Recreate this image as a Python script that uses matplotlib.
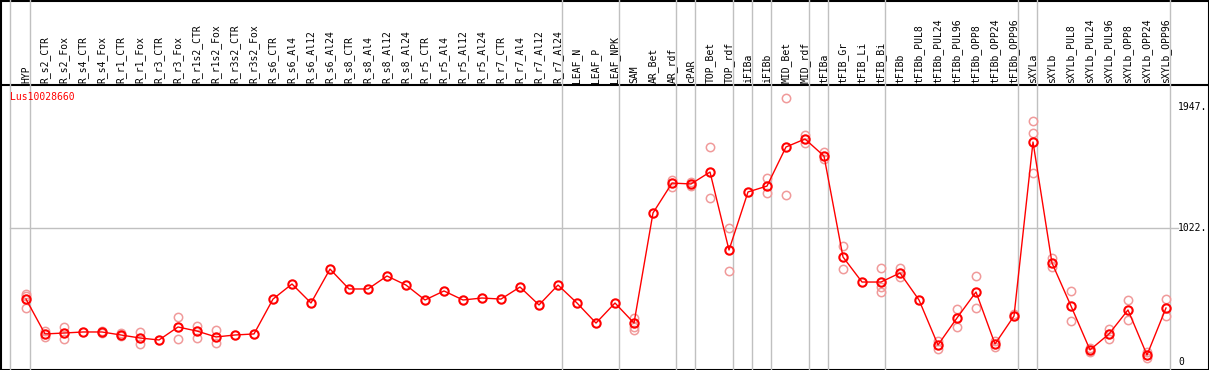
import matplotlib
matplotlib.use('Agg')
import matplotlib.pyplot as plt

W, H = 1209, 370

gene = 'Lus10028660'
samples = ['HYP', 'R_s2_CTR', 'R_s2_Fox', 'R_s4_CTR', 'R_s4_Fox', 'R_r1_CTR', 'R_r1_Fox',
           'R_r3_CTR', 'R_r3_Fox', 'R_r1s2_CTR', 'R_r1s2_Fox', 'R_r3s2_CTR', 'R_r3s2_Fox',
           'R_s6_CTR', 'R_s6_Al4', 'R_s6_Al12', 'R_s6_Al24', 'R_s8_CTR', 'R_s8_Al4',
           'R_s8_Al12', 'R_s8_Al24', 'R_r5_CTR', 'R_r5_Al4', 'R_r5_Al12', 'R_r5_Al24',
           'R_r7_CTR', 'R_r7_Al4', 'R_r7_Al12', 'R_r7_Al24', 'LEAF_N', 'LEAF_P', 'LEAF_NPK',
           'SAM', 'AR_Bet', 'AR_rdf', 'cPAR', 'TOP_Bet', 'TOP_rdf', 'iFIBa', 'iFIBb',
           'MID_Bet', 'MID_rdf', 'tFIBa', 'tFIB_Gr', 'tFIB_Li', 'tFIB_Bi', 'tFIBb',
           'tFIBb_PUL8', 'tFIBb_PUL24', 'tFIBb_PUL96', 'tFIBb_OPP8', 'tFIBb_OPP24',
           'tFIBb_OPP96', 'sXYLa', 'sXYLb', 'sXYLb_PUL8', 'sXYLb_PUL24', 'sXYLb_PUL96',
           'sXYLb_OPP8', 'sXYLb_OPP24', 'sXYLb_OPP96']

means = [480, 214, 221, 229, 229, 206, 183, 168, 267, 236, 191, 206, 214,
         480, 595, 450, 709, 557, 557, 656, 587, 473, 542, 473, 488, 480, 572, 435, 587,
         450, 297, 450, 297, 1137, 1365, 1358, 1449, 854, 1297, 1342, 1640, 1701, 1571,
         801, 610, 610, 679, 473, 130, 336, 534, 137, 351,
         1678, 755, 427, 92, 214, 397, 53, 412]

reps = [[519, 503, 412], [236, 191], [267, 175], [], [236, 221], [221, 198], [229, 137],
        [], [343, 175], [275, 183], [244, 145], [], [],
        [], [], [], [], [], [], [], [], [], [], [], [], [], [], [], [],
        [], [], [], [336, 267, 244], [], [1388, 1335], [1373, 1342], [1640, 1251],
        [1022, 694], [], [1404, 1289], [2014, 1274], [1732, 1671], [1602, 1548],
        [885, 709], [], [717, 572, 534], [717, 648], [], [160, 99], [404, 267],
        [656, 412], [160, 114], [366],
        [1838, 1747, 1442], [793, 725], [542, 313], [107, 76], [252, 175], [473, 320],
        [76, 31], [480, 351]]

# group boundaries (separator drawn right after these samples)
group_ends = ['HYP', 'R_r7_Al24', 'LEAF_NPK', 'AR_rdf', 'cPAR', 'TOP_rdf', 'iFIBa', 'iFIBb',
              'MID_rdf', 'tFIBa', 'tFIB_Bi', 'tFIBb_OPP96', 'sXYLa', 'sXYLb_OPP96']

y_ticks = [0, 1022, 1947]

fig = plt.figure(figsize=(W / 100, H / 100), dpi=100)
mono = 'DejaVu Sans Mono'

# plot box in pixels: x 10..1170, y 85..369
left, right, top, bottom = 10, 1170, 85, 369
ax = fig.add_axes([left / W, (H - bottom) / H, (right - left) / W, (bottom - top) / H])
ax.set_xlim(-16 / 19, (right - 26) / 19)
ax.set_ylim(-7 / 0.1311, 277 / 0.1311)
ax.axis('off')

x = list(range(len(samples)))
gray = '#c0c0c0'

ax.axvline(ax.get_xlim()[0], 0, bottom / (bottom - top), color=gray, lw=1, clip_on=False)
for g in group_ends:
    ax.axvline(samples.index(g) + 4 / 19, 0, bottom / (bottom - top), color=gray, lw=1,
               clip_on=False)
ax.axhline(1022, 0, 1.007, color=gray, lw=1, clip_on=False)

for i, r in enumerate(reps):
    ax.plot([i] * len(r), r, linestyle='none', marker='o', ms=6, mfc='none',
            mec='#f09a9a', mew=1.1, clip_on=False)
ax.plot(x, means, color='red', lw=1, marker='o', ms=6, mfc='none', mec='red', mew=1.5,
        clip_on=False)

# sample names in the header, rotated
for i, s in enumerate(samples):
    ax.text(i, 1 + 2 / (bottom - top), s, transform=ax.get_xaxis_transform(), ha='center',
            va='bottom', rotation=90, fontsize=7, family=mono)

for v in y_ticks:
    lab = str(v) if v == 0 else '%d.' % v
    ax.text(1 + 8 / (right - left), v, lab, transform=ax.get_yaxis_transform(),
            ha='left', va='center', fontsize=7, family=mono)

ax.text(0, 1 - 12 / (bottom - top), gene, transform=ax.transAxes, ha='left', va='center',
        fontsize=7, family=mono, color='red')

# frame and header separator
frame = fig.add_axes([0, 0, 1, 1], zorder=-1)
frame.set_xlim(0, W)
frame.set_ylim(H, 0)
frame.axis('off')
frame.plot([0.5, W - 0.5, W - 0.5, 0.5, 0.5], [0.5, 0.5, H - 0.5, H - 0.5, 0.5], color='black', lw=1.5)
frame.plot([0, W], [top, top], color='black', lw=1.5)

fig.savefig('out.png', dpi=100)
